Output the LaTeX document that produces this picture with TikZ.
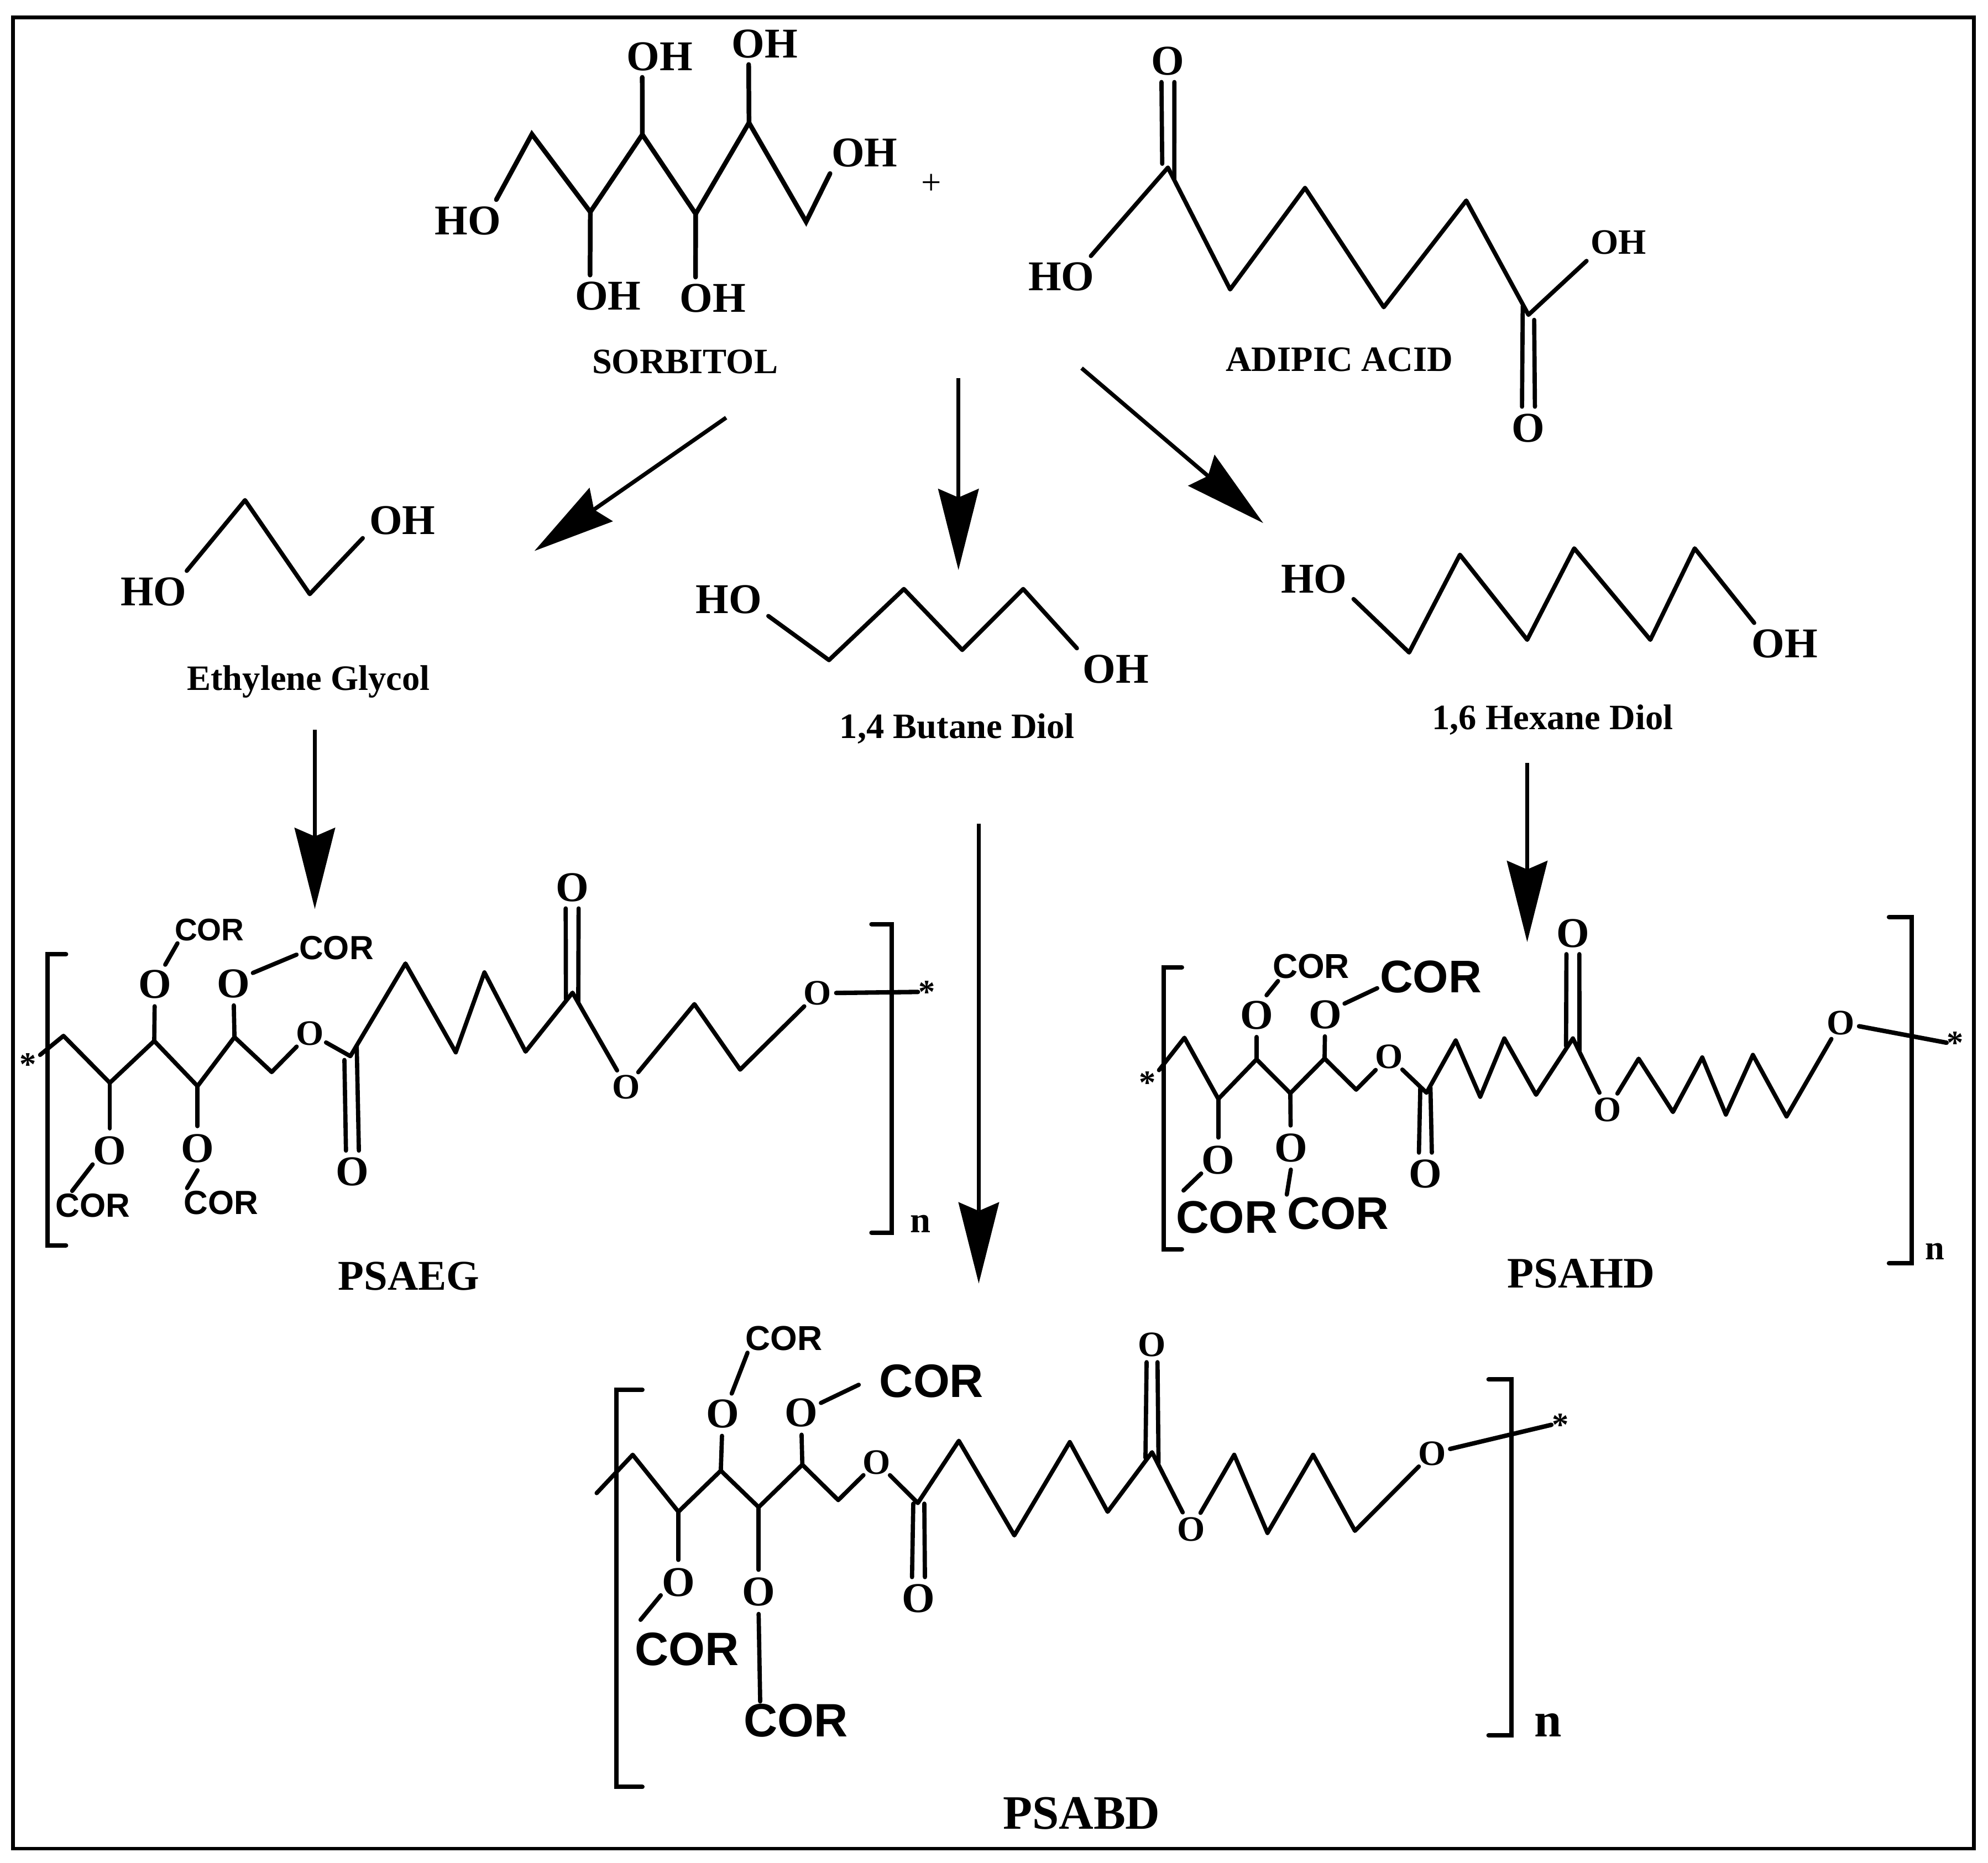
\documentclass[tikz,border=0pt]{standalone}
\usepackage{fontspec}
\setmainfont{Liberation Serif}
\setsansfont{Liberation Sans}
\usetikzlibrary{arrows.meta}
\tikzset{
  bond/.style={line width=1.9pt,line cap=round,line join=round},
  heavybond/.style={line width=2.1pt,line cap=round,line join=miter},
  bracket/.style={line width=2pt,line cap=round,line join=miter},
  reaction/.style={line width=1.8pt,-{Stealth[length=36.5pt,width=18.4pt,inset=4pt,line width=0pt]}},
  oh/.style={inner xsep=2.8pt,inner ysep=2.8pt,text depth=0pt,font=\bfseries\fontsize{19}{19}\selectfont},
  ohsmall/.style={oh,font=\bfseries\fontsize{16}{16}\selectfont},
  oxy/.style={circle,inner sep=0pt,text depth=0pt,font=\bfseries\fontsize{19}{19}\selectfont},
  oxysmall/.style={oxy,font=\bfseries\fontsize{16}{16}\selectfont},
  cor/.style={inner sep=1pt,text depth=0pt,font=\sffamily\bfseries\fontsize{#1}{#1}\selectfont},
  compound/.style={inner sep=0pt,text depth=0pt,font=\bfseries\fontsize{#1}{#1}\selectfont},
  asterisk/.style={inner sep=0pt,text depth=0pt,font=\bfseries\fontsize{15}{15}\selectfont}
}
\begin{document}
\begin{tikzpicture}[x=0.02cm,y=-0.02cm]
  \useasboundingbox (0,0) rectangle (1566,1467.2);
  \node[draw,line width=1.6pt,minimum width=30.9cm,minimum height=28.86cm,inner sep=0pt] (frame) at (782.5,735) {};

  \node[oh] (sho) at (368.5,173.6) {HO};
  \node[oh] (soh1) at (519.6,44.6) {OH};
  \node[oh] (soh2) at (602.5,34.5) {OH};
  \node[oh] (soh3) at (681,120.4) {OH};
  \node[oh] (soh4) at (479,233) {OH};
  \node[oh] (soh5) at (561.6,234.6) {OH};
  \node[compound=16] (sorbitol) at (539.6,285) {SORBITOL};
  \node[font=\fontsize{16}{16}\selectfont,inner sep=0pt] (plus) at (733.5,145) {+};
  \draw[heavybond] (sho.36) -- (419,105.7) -- (465,167) -- (506,106) -- (548,168.5) -- (590,96.7) -- (635,174.7) -- (soh3.211);
  \draw[heavybond] (506,106) -- (soh1.230);
  \draw[heavybond] (590,96.7) -- (soh2.232);
  \draw[heavybond] (465,167) -- (soh4.131);
  \draw[heavybond] (548,168.5) -- (soh5.130);

  \node[oh] (aho) at (836,218) {HO};
  \node[ohsmall] (aoh) at (1275,191) {OH};
  \node[oxy] (ao1) at (920,48) {O};
  \node[oxy] (ao2) at (1204,337) {O};
  \node[compound=16] (adipic) at (1055,283) {ADIPIC ACID};
  \draw[bond] (aho.35) -- (920,132) -- (969,228) -- (1028,148) -- (1090,242) -- (1155,158) -- (1204,248) -- (aoh.210);
  \draw[bond] (ao1.253) -- (915.5,129);
  \draw[bond] (ao1.287) -- (925,141);
  \draw[bond] (ao2.107) -- (1199.5,241);
  \draw[bond] (ao2.73) -- (1208.5,252);

  \node[oh] (eho) at (121,466) {HO};
  \node[oh] (eoh) at (317,410) {OH};
  \node[compound=16] (glycol) at (243,534) {Ethylene Glycol};
  \draw[bond] (eho.32) -- (193,394) -- (244,468) -- (eoh.204);

  \node[oh] (bho) at (574,472) {HO};
  \node[oh] (boh) at (879,527) {OH};
  \node[compound=16] (butane) at (754,572) {1,4 Butane Diol};
  \draw[bond] (bho.337) -- (653,520) -- (712,464) -- (758,512) -- (806,464) -- (boh.152);

  \node[oh] (hho) at (1035,456) {HO};
  \node[oh] (hoh) at (1406,507) {OH};
  \node[compound=16] (hexane) at (1223,565) {1,6 Hexane Diol};
  \draw[bond] (hho.333) -- (1110,514) -- (1150,437) -- (1203,504) -- (1240,432) -- (1300,504) -- (1335,432) -- (hoh.146);

  \coordinate (r1a) at (572,329);
  \coordinate (r1b) at (421,434);
  \coordinate (r2a) at (755,298);
  \coordinate (r2b) at (755,449);
  \coordinate (r3a) at (852,290);
  \coordinate (r3b) at (995,412);
  \coordinate (r4a) at (248,575);
  \coordinate (r4b) at (248,716);
  \coordinate (r5a) at (771,649);
  \coordinate (r5b) at (771,1011);
  \coordinate (r6a) at (1203,601);
  \coordinate (r6b) at (1203,742);
  \foreach \n in {1,...,6}
    \draw[reaction] (r\n a) -- (r\n b);

  \node[asterisk] (estar1) at (22,838.4) {*};
  \node[asterisk] (estar2) at (730,781.4) {*};
  \node[oxy] (eo1) at (122,775.3) {O};
  \node[oxy] (eo2) at (183.8,774.6) {O};
  \node[oxy] (eo3) at (86.5,906.3) {O};
  \node[oxy] (eo4) at (155.6,904.5) {O};
  \node[oxysmall] (eo5) at (244,814) {O};
  \node[oxy] (eo6) at (277.6,923) {O};
  \node[oxy] (eo7) at (450.7,699) {O};
  \node[oxysmall] (eo8) at (493.4,856) {O};
  \node[oxysmall] (eo9) at (644,782.4) {O};
  \node[cor=14] (ec1) at (165,732.4) {COR};
  \node[cor=15] (ec2) at (265,746.5) {COR};
  \node[cor=15] (ec3) at (73,949.5) {COR};
  \node[cor=15] (ec4) at (174,947.2) {COR};
  \node[compound=16.5] (en) at (725,964) {n};
  \node[compound=19] (psaeg) at (322,1005) {PSAEG};
  \draw[bond] (31.6,831) -- (50,816) -- (86.5,853) -- (121.5,820) -- (155.6,855.6) -- (184.7,817) -- (214,844.5) -- (eo5) -- (276,832) -- (319.4,759) -- (359,829) -- (381.6,766) -- (414,828.4) -- (451,782) -- (eo8) -- (547,791) -- (583,842.6) -- (eo9);
  \draw[bond] (121.5,820) -- (eo1);
  \draw[bond] (184.7,817) -- (eo2);
  \draw[bond] (86.5,853) -- (eo3);
  \draw[bond] (155.6,855.6) -- (eo4);
  \draw[bond] (eo1.62) -- (ec1.203);
  \draw[bond] (eo2.28) -- (ec2.190);
  \draw[bond] (eo3.219) -- (ec3.145);
  \draw[bond] (eo4.south) -- (ec4.157);
  \draw[bond] (eo7.253) -- (445.8,787);
  \draw[bond] (eo7.287) -- (455.5,790);
  \draw[bond] (eo6.107) -- (271.3,835);
  \draw[bond] (eo6.73) -- (281,823.7);
  \draw[bracket] (eo9) -- (estar2.west);
  \draw[bracket] (52,751.7) -- (37.4,751.7) -- (37.4,981) -- (52,981);
  \draw[bracket] (686.5,728) -- (702.5,728) -- (702.5,971) -- (686.5,971);

  \node[asterisk] (hstar1) at (904,852.9) {*};
  \node[asterisk] (hstar2) at (1540.3,821.4) {*};
  \node[oxy] (ho1) at (989.8,799.5) {O};
  \node[oxy] (ho2) at (1043.9,799) {O};
  \node[oxy] (ho3) at (959.7,913.5) {O};
  \node[oxy] (ho4) at (1016.8,904) {O};
  \node[oxysmall] (ho5) at (1094,832.4) {O};
  \node[oxy] (ho6) at (1122.8,924.6) {O};
  \node[oxy] (ho7) at (1239,735) {O};
  \node[oxysmall] (ho8) at (1266.4,874) {O};
  \node[oxysmall] (ho9) at (1450,805.7) {O};
  \node[cor=15.5] (hc1) at (1032.8,761.2) {COR};
  \node[cor=20.5] (hc2) at (1127,769.5) {COR};
  \node[cor=20.5] (hc3) at (966.3,958.6) {COR};
  \node[cor=20.5] (hc4) at (1054,955.7) {COR};
  \node[compound=15.5] (hn) at (1524,985.7) {n};
  \node[compound=19.5] (psahd) at (1245.5,1003) {PSAHD};
  \draw[bond] (913,843) -- (933,817.5) -- (959.7,865.7) -- (989.8,834.5) -- (1016.4,861.2) -- (1043.4,833.8) -- (1068.3,858.4) -- (ho5) -- (1123.7,860.8) -- (1146.7,819.6) -- (1166,864) -- (1185,818) -- (1210,862.4) -- (1239,818) -- (ho8) -- (1290.8,834) -- (1317.8,876) -- (1340.9,833) -- (1359.5,878) -- (1380.8,831) -- (1407.3,879.5) -- (ho9);
  \draw[bond] (989.8,834.5) -- (ho1);
  \draw[bond] (1043.4,833.8) -- (ho2);
  \draw[bond] (959.7,865.7) -- (ho3);
  \draw[bond] (1016.4,861.2) -- (ho4);
  \draw[bond] (ho1.63) -- (hc1.204);
  \draw[bond] (ho2.29) -- (hc2.192);
  \draw[bond,shorten >=5pt] (ho3.219) -- (hc3.160);
  \draw[bond] (ho4.south) -- (hc4.160);
  \draw[bond] (ho7.253) -- (1233.6,824);
  \draw[bond] (ho7.287) -- (1244.2,828);
  \draw[bond] (ho6.107) -- (1118.8,856.8);
  \draw[bond] (ho6.73) -- (1126.8,856.8);
  \draw[bracket] (ho9) -- (hstar2.west);
  \draw[bracket] (931,762) -- (916.7,762) -- (916.7,984) -- (931,984);
  \draw[bracket] (1488,722.4) -- (1505.8,722.4) -- (1505.8,995.2) -- (1488,995.2);

  \node[asterisk] (bstar2) at (1229,1122.4) {*};
  \node[oxy] (bo1) at (569.3,1113.7) {O};
  \node[oxy] (bo2) at (631,1112.8) {O};
  \node[oxy] (bo3) at (534.4,1246.2) {O};
  \node[oxy] (bo4) at (597.6,1254) {O};
  \node[oxysmall] (bo5) at (690.6,1151.7) {O};
  \node[oxy] (bo6) at (723.5,1259) {O};
  \node[oxysmall] (bo7) at (907.5,1059) {O};
  \node[oxysmall] (bo8) at (938.3,1204.5) {O};
  \node[oxysmall] (bo9) at (1128,1144.8) {O};
  \node[cor=15.5] (bc1) at (617.6,1054) {COR};
  \node[cor=21] (bc2) at (733.8,1087.8) {COR};
  \node[cor=21] (bc3) at (541,1299) {COR};
  \node[cor=21] (bc4) at (627,1355.3) {COR};
  \node[compound=22] (bn) at (1219.4,1359) {n};
  \node[compound=21.5] (psabd) at (852,1428.4) {PSABD};
  \draw[bond] (470,1176.2) -- (498.4,1146) -- (534.4,1190.9) -- (567.8,1158.5) -- (597.6,1187.3) -- (632,1153.8) -- (660.3,1181.7) -- (bo5) -- (723,1184) -- (755.3,1135) -- (799,1209.5) -- (842.7,1136) -- (872.5,1190.9) -- (907.5,1144) -- (bo8) -- (972.2,1146) -- (998.4,1207.6) -- (1034.4,1146) -- (1067.3,1205.9) -- (bo9);
  \draw[bond] (567.8,1158.5) -- (bo1);
  \draw[bond] (632,1153.8) -- (bo2);
  \draw[bond] (534.4,1190.9) -- (bo3);
  \draw[bond] (597.6,1187.3) -- (bo4);
  \draw[bond] (bo1.66) -- (bc1.202);
  \draw[bond,shorten >=9pt] (bo2.26) -- (bc2.175);
  \draw[bond,shorten >=6pt] (bo3.217) -- (bc3.161);
  \draw[bond] (bo4.south) -- (bc4.152);
  \draw[bond] (bo7.253) -- (902.3,1148.4);
  \draw[bond] (bo7.287) -- (912.6,1152.6);
  \draw[bond] (bo6.107) -- (719.4,1184.5);
  \draw[bond] (bo6.73) -- (728.1,1184.5);
  \draw[bracket] (bo9) -- (bstar2.west);
  \draw[bracket] (506,1094.8) -- (485.6,1094.8) -- (485.6,1407.6) -- (506,1407.6);
  \draw[bracket] (1172.6,1086.7) -- (1190.6,1086.7) -- (1190.6,1367) -- (1172.6,1367);
\end{tikzpicture}
\end{document}
